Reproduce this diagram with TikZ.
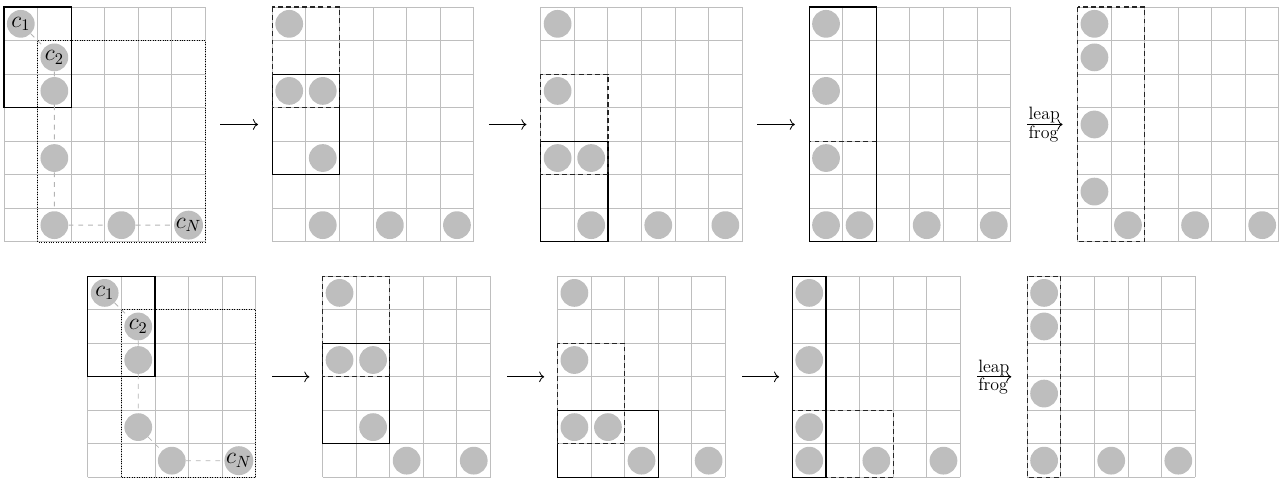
\documentclass[tikz,border=0pt]{standalone}
\usetikzlibrary{arrows.meta}
\definecolor{coin-gray}{RGB}{190,190,190}
\definecolor{grid-gray}{RGB}{190,190,190}
\definecolor{trail-gray}{RGB}{180,180,180}
\tikzset{
  board/.style={draw=grid-gray, line width=0.6pt},
  coin/.style={circle, fill=coin-gray, minimum size=0.6cm, inner sep=0pt, font=\Large},
  window/.style={draw=black, line width=0.7pt},
  lastwin/.style={draw=black!85, densely dashed, line width=0.7pt},
  region/.style={draw=black, densely dotted, line width=0.5pt},
  trail/.style={draw=trail-gray, dashed, line width=0.5pt},
  arrow/.style={-{To[length=1.1mm]}, line width=0.5pt},
  hop/.style={font=\fontsize{11}{12}\selectfont, inner sep=0.5pt}
}
\begin{document}
\begin{tikzpicture}[scale=0.725]
\useasboundingbox (0,0) rectangle (38.3,-14.23);

\begin{scope}[shift={(0.12,-0.21)}]
\draw[board] (0,0) grid (6,-7);
\draw[region] (1,-1) rectangle (6,-7);
\draw[window] (0,0) rectangle (2,-3);
\node[coin] (t1a) at (0.5,-0.5) {$c_1$};
\node[coin] (t1b) at (1.5,-1.5) {$c_2$};
\node[coin] (t1c) at (1.5,-2.5) {};
\node[coin] (t1d) at (1.5,-4.5) {};
\node[coin] (t1e) at (1.5,-6.5) {};
\node[coin] (t1f) at (3.5,-6.5) {};
\node[coin] (t1g) at (5.5,-6.5) {$c_N$};
\draw[trail] (t1a) -- (t1b);
\draw[trail] (t1b) -- (t1c);
\draw[trail] (t1c) -- (t1d);
\draw[trail] (t1d) -- (t1e);
\draw[trail] (t1e) -- (t1f);
\draw[trail] (t1f) -- (t1g);
\coordinate (t1o) at (6.45,-3.5);
\end{scope}

\begin{scope}[shift={(8.12,-0.21)}]
\draw[board] (0,0) grid (6,-7);
\draw[window] (0,-2) rectangle (2,-5);
\draw[lastwin] (0,0) rectangle (2,-3);
\node[coin] (t2a) at (0.5,-0.5) {};
\node[coin] (t2b) at (0.5,-2.5) {};
\node[coin] (t2c) at (1.5,-2.5) {};
\node[coin] (t2d) at (1.5,-4.5) {};
\node[coin] (t2e) at (1.5,-6.5) {};
\node[coin] (t2f) at (3.5,-6.5) {};
\node[coin] (t2g) at (5.5,-6.5) {};
\coordinate (t2i) at (-0.43,-3.5);
\coordinate (t2o) at (6.45,-3.5);
\end{scope}

\begin{scope}[shift={(16.12,-0.21)}]
\draw[board] (0,0) grid (6,-7);
\draw[window] (0,-4) rectangle (2,-7);
\draw[lastwin] (0,-2) rectangle (2,-5);
\node[coin] (t3a) at (0.5,-0.5) {};
\node[coin] (t3b) at (0.5,-2.5) {};
\node[coin] (t3c) at (0.5,-4.5) {};
\node[coin] (t3d) at (1.5,-4.5) {};
\node[coin] (t3e) at (1.5,-6.5) {};
\node[coin] (t3f) at (3.5,-6.5) {};
\node[coin] (t3g) at (5.5,-6.5) {};
\coordinate (t3i) at (-0.43,-3.5);
\coordinate (t3o) at (6.45,-3.5);
\end{scope}

\begin{scope}[shift={(24.12,-0.21)}]
\draw[board] (0,0) grid (6,-7);
\draw[lastwin] (0,-4) rectangle (2,-7);
\draw[window] (0,0) rectangle (2,-7);
\node[coin] (t4a) at (0.5,-0.5) {};
\node[coin] (t4b) at (0.5,-2.5) {};
\node[coin] (t4c) at (0.5,-4.5) {};
\node[coin] (t4d) at (0.5,-6.5) {};
\node[coin] (t4e) at (1.5,-6.5) {};
\node[coin] (t4f) at (3.5,-6.5) {};
\node[coin] (t4g) at (5.5,-6.5) {};
\coordinate (t4i) at (-0.43,-3.5);
\coordinate (t4o) at (6.5,-3.5);
\end{scope}

\begin{scope}[shift={(32.12,-0.21)}]
\draw[board] (0,0) grid (6,-7);
\draw[lastwin] (0,0) rectangle (2,-7);
\node[coin] (t5a) at (0.5,-0.5) {};
\node[coin] (t5b) at (0.5,-1.5) {};
\node[coin] (t5c) at (0.5,-3.5) {};
\node[coin] (t5d) at (0.5,-5.5) {};
\node[coin] (t5e) at (1.5,-6.5) {};
\node[coin] (t5f) at (3.5,-6.5) {};
\node[coin] (t5g) at (5.5,-6.5) {};
\coordinate (t5i) at (-0.45,-3.5);
\end{scope}

\begin{scope}[shift={(2.62,-8.23)}]
\draw[board] (0,0) grid (5,-6);
\draw[region] (1,-1) rectangle (5,-6);
\draw[window] (0,0) rectangle (2,-3);
\node[coin] (b1a) at (0.5,-0.5) {$c_1$};
\node[coin] (b1b) at (1.5,-1.5) {$c_2$};
\node[coin] (b1c) at (1.5,-2.5) {};
\node[coin] (b1d) at (1.5,-4.5) {};
\node[coin] (b1e) at (2.5,-5.5) {};
\node[coin] (b1f) at (4.5,-5.5) {$c_N$};
\draw[trail] (b1a) -- (b1b);
\draw[trail] (b1b) -- (b1c);
\draw[trail] (b1c) -- (b1d);
\draw[trail] (b1d) -- (b1e);
\draw[trail] (b1e) -- (b1f);
\coordinate (b1o) at (5.5,-3);
\end{scope}

\begin{scope}[shift={(9.62,-8.23)}]
\draw[board] (0,0) grid (5,-6);
\draw[window] (0,-2) rectangle (2,-5);
\draw[lastwin] (0,0) rectangle (2,-3);
\node[coin] (b2a) at (0.5,-0.5) {};
\node[coin] (b2b) at (0.5,-2.5) {};
\node[coin] (b2c) at (1.5,-2.5) {};
\node[coin] (b2d) at (1.5,-4.5) {};
\node[coin] (b2e) at (2.5,-5.5) {};
\node[coin] (b2f) at (4.5,-5.5) {};
\coordinate (b2i) at (-0.4,-3);
\coordinate (b2o) at (5.5,-3);
\end{scope}

\begin{scope}[shift={(16.62,-8.23)}]
\draw[board] (0,0) grid (5,-6);
\draw[window] (0,-4) rectangle (3,-6);
\draw[lastwin] (0,-2) rectangle (2,-5);
\node[coin] (b3a) at (0.5,-0.5) {};
\node[coin] (b3b) at (0.5,-2.5) {};
\node[coin] (b3c) at (0.5,-4.5) {};
\node[coin] (b3d) at (1.5,-4.5) {};
\node[coin] (b3e) at (2.5,-5.5) {};
\node[coin] (b3f) at (4.5,-5.5) {};
\coordinate (b3i) at (-0.4,-3);
\coordinate (b3o) at (5.5,-3);
\end{scope}

\begin{scope}[shift={(23.62,-8.23)}]
\draw[board] (0,0) grid (5,-6);
\draw[lastwin] (0,-4) rectangle (3,-6);
\draw[window] (0,0) rectangle (1,-6);
\node[coin] (b4a) at (0.5,-0.5) {};
\node[coin] (b4b) at (0.5,-2.5) {};
\node[coin] (b4c) at (0.5,-4.5) {};
\node[coin] (b4d) at (0.5,-5.5) {};
\node[coin] (b4e) at (2.5,-5.5) {};
\node[coin] (b4f) at (4.5,-5.5) {};
\coordinate (b4i) at (-0.4,-3);
\coordinate (b4o) at (5.5,-3);
\end{scope}

\begin{scope}[shift={(30.62,-8.23)}]
\draw[board] (0,0) grid (5,-6);
\draw[lastwin] (0,0) rectangle (1,-6);
\node[coin] (b5a) at (0.5,-0.5) {};
\node[coin] (b5b) at (0.5,-1.5) {};
\node[coin] (b5c) at (0.5,-3.5) {};
\node[coin] (b5d) at (0.5,-5.5) {};
\node[coin] (b5e) at (2.5,-5.5) {};
\node[coin] (b5f) at (4.5,-5.5) {};
\coordinate (b5i) at (-0.48,-3);
\end{scope}

\draw[arrow] (t1o) -- (t2i);
\draw[arrow] (t2o) -- (t3i);
\draw[arrow] (t3o) -- (t4i);
\draw[arrow] (t4o) -- (t5i) node[hop, pos=0, above right] {leap} node[hop, pos=0, below right] {frog};
\draw[arrow] (b1o) -- (b2i);
\draw[arrow] (b2o) -- (b3i);
\draw[arrow] (b3o) -- (b4i);
\draw[arrow] (b4o) -- (b5i) node[hop, pos=0, above right] {leap} node[hop, pos=0, below right] {frog};
\end{tikzpicture}
\end{document}
